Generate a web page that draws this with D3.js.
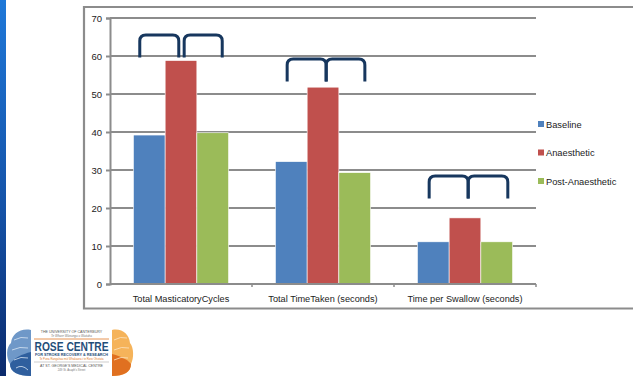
<!DOCTYPE html>
<html>
<head>
<meta charset="utf-8">
<script src="https://cdn.jsdelivr.net/npm/d3@7"></script>
<style>
  html, body { margin: 0; padding: 0; background: #fff; }
  svg { display: block; }
</style>
</head>
<body>
<svg id="chart" width="633" height="376"></svg>
<script>
// Chart data
const categories = ["Total MasticatoryCycles", "Total TimeTaken (seconds)", "Time per Swallow (seconds)"];
const seriesNames = ["Baseline", "Anaesthetic", "Post-Anaesthetic"];
const baseline = [39.2, 32.2, 11.1];
const anaesthetic = [58.8, 51.8, 17.4];
const postAnaesthetic = [39.8, 29.3, 11.1];
const yTicks = [0, 10, 20, 30, 40, 50, 60, 70];
const colors = ["#4f81bd", "#c0504d", "#9bbb59"];

const series = [baseline, anaesthetic, postAnaesthetic];

const svg = d3.select("#chart");
const font = "'Liberation Sans', Arial, sans-serif";

// Left slide stripe
const defs = svg.append("defs");
const grad = defs.append("linearGradient").attr("id", "stripe")
  .attr("x1", 0).attr("y1", 0).attr("x2", 0).attr("y2", 1);
grad.append("stop").attr("offset", "0%").attr("stop-color", "#1f78d8");
grad.append("stop").attr("offset", "55%").attr("stop-color", "#1553a8");
grad.append("stop").attr("offset", "100%").attr("stop-color", "#0b2a6c");
svg.append("rect").attr("x", 0).attr("y", 0).attr("width", 6).attr("height", 376)
  .attr("fill", "url(#stripe)");

// Chart frame
svg.append("path")
  .attr("d", "M634,7 H84 V308.5 H634")
  .attr("fill", "none").attr("stroke", "#8c8c8c").attr("stroke-width", 2.2);

// Scales
const x0 = d3.scaleBand().domain(categories).range([110, 536]).paddingInner(0.33).paddingOuter(0.165);
const x1 = d3.scaleBand().domain(d3.range(3)).range([0, x0.bandwidth()]);
const y = d3.scaleLinear().domain([0, 70]).range([284, 18]);

// Gridlines
svg.append("g").selectAll("line").data(yTicks.filter(d => d > 0)).join("line")
  .attr("x1", 110).attr("x2", 536)
  .attr("y1", d => y(d)).attr("y2", d => y(d))
  .attr("stroke", "#8c8c8c").attr("stroke-width", 2);

// Y axis
const yAxis = svg.append("g").attr("transform", "translate(110,0)")
  .call(d3.axisLeft(y).tickValues(yTicks).tickSize(4).tickPadding(4));
yAxis.select(".domain").attr("stroke", "#8c8c8c").attr("stroke-width", 2);
yAxis.selectAll(".tick line").attr("stroke", "#8c8c8c").attr("stroke-width", 2);
yAxis.selectAll(".tick text").attr("font-family", font).attr("font-size", 9.5).attr("fill", "#222");

// Bars
const groups = svg.append("g").selectAll("g").data(categories).join("g")
  .attr("transform", d => `translate(${x0(d)},0)`);
groups.selectAll("rect").data((d, i) => series.map((s, k) => ({ k, v: s[i] }))).join("rect")
  .attr("x", d => x1(d.k))
  .attr("y", d => y(d.v))
  .attr("width", x1.bandwidth())
  .attr("height", d => y(0) - y(d.v))
  .attr("fill", d => colors[d.k])
  .attr("stroke", "#fff").attr("stroke-width", 0.6);

// X axis
const xAxisG = svg.append("g").attr("transform", "translate(0,284)");
xAxisG.append("line").attr("x1", 110).attr("x2", 536).attr("stroke", "#8c8c8c").attr("stroke-width", 2);
xAxisG.selectAll(".xt").data(categories.map(c => x0(c) - x0.step() * x0.paddingInner() / 2)
    .slice(1).concat([536])).join("line")
  .attr("x1", d => d).attr("x2", d => d).attr("y1", 0).attr("y2", 3)
  .attr("stroke", "#8c8c8c").attr("stroke-width", 1.5);
xAxisG.selectAll("text").data(categories).join("text")
  .attr("x", d => x0(d) + x0.bandwidth() / 2).attr("y", 18)
  .attr("text-anchor", "middle")
  .attr("font-family", font).attr("font-size", 9.2).attr("fill", "#222")
  .text(d => d);

// Significance brackets over each group (Baseline–Anaesthetic, Anaesthetic–Post)
// Each bracket spans from one bar to the next; ends given as [series, fraction of bar width].
const bracketLevel = [65.5, 59.2, 28.4];
const bracketEnds = [
  [[[0, 0.2], [1, 0.43]], [[1, 0.6], [2, 0.8]]],
  [[[0, 0.37], [1, 0.6]], [[1, 0.6], [2, 0.82]]],
  [[[0, 0.37], [1, 0.6]], [[1, 0.6], [2, 0.85]]]
];
const r = 6;
categories.forEach((c, i) => {
  const top = y(bracketLevel[i]);
  const bottom = top + 22.5;
  bracketEnds[i].forEach(([a, b]) => {
    const xa = x0(c) + x1(a[0]) + x1.bandwidth() * a[1];
    const xb = x0(c) + x1(b[0]) + x1.bandwidth() * b[1];
    svg.append("path")
      .attr("d", `M${xa},${bottom} L${xa},${top + r} Q${xa},${top} ${xa + r},${top} L${xb - r},${top} Q${xb},${top} ${xb},${top + r} L${xb},${bottom}`)
      .attr("fill", "none").attr("stroke", "#17375e").attr("stroke-width", 3);
  });
});

// Legend
const legend = svg.append("g").selectAll("g").data(seriesNames).join("g")
  .attr("transform", (d, i) => `translate(538,${121 + i * 28.5})`);
legend.append("rect").attr("width", 6).attr("height", 6).attr("fill", (d, i) => colors[i]);
legend.append("text").attr("x", 8).attr("y", 6.5)
  .attr("font-family", font).attr("font-size", 9.3).attr("fill", "#222")
  .text(d => d);

// Rose Centre logo
const logo = svg.append("g").attr("transform", "translate(0,326)");
const brainL = logo.append("g");
brainL.append("path").attr("d", "M31,4 C20,2 12,8 11,17 C6,21 6,32 10,38 C10,46 18,50 31,50 Z")
  .attr("fill", "#6f98c8");
brainL.append("path").attr("d", "M31,26 C22,28 14,32 10,38 C10,46 18,50 31,50 Z")
  .attr("fill", "#2f5f9e");
brainL.selectAll("path.c").data([[14, 14, 28, 12], [12, 24, 28, 22], [14, 34, 28, 32], [16, 42, 28, 44]]).join("path")
  .attr("d", d => `M${d[0]},${d[1]} Q${(d[0] + d[2]) / 2},${d[1] - 4} ${d[2]},${d[3]}`)
  .attr("fill", "none").attr("stroke", "#d8e4f2").attr("stroke-width", 0.8);
const brainR = logo.append("g");
brainR.append("path").attr("d", "M112,4 C122,2 129,8 130,17 C134,22 134,32 131,38 C131,46 124,50 112,50 Z")
  .attr("fill", "#f5b35a");
brainR.append("path").attr("d", "M112,28 C120,30 127,33 131,38 C131,46 124,50 112,50 Z")
  .attr("fill", "#e07020");
brainR.selectAll("path.c").data([[114, 14, 127, 12], [114, 24, 129, 22], [114, 34, 128, 32]]).join("path")
  .attr("d", d => `M${d[0]},${d[1]} Q${(d[0] + d[2]) / 2},${d[1] - 4} ${d[2]},${d[3]}`)
  .attr("fill", "none").attr("stroke", "#fbe3c2").attr("stroke-width", 0.8);
logo.append("rect").attr("x", 32).attr("y", 2).attr("width", 79).attr("height", 48).attr("fill", "#fff");
logo.append("text").attr("x", 71.5).attr("y", 7).attr("text-anchor", "middle")
  .attr("font-family", font).attr("font-size", 3.6).attr("fill", "#555")
  .text("THE UNIVERSITY OF CANTERBURY");
logo.append("text").attr("x", 71.5).attr("y", 11).attr("text-anchor", "middle")
  .attr("font-family", font).attr("font-size", 3).attr("font-style", "italic").attr("fill", "#777")
  .text("Te Whare Wānanga o Waitaha");
logo.append("line").attr("x1", 34).attr("x2", 109).attr("y1", 13).attr("y2", 13).attr("stroke", "#e07a2a").attr("stroke-width", 0.8);
logo.append("text").attr("x", 71.5).attr("y", 25).attr("text-anchor", "middle")
  .attr("font-family", "'Liberation Sans Narrow', 'Liberation Sans', sans-serif").attr("font-weight", "bold")
  .attr("font-size", 13).attr("fill", "#1f4e79").attr("textLength", 74).attr("lengthAdjust", "spacingAndGlyphs")
  .text("ROSE CENTRE");
logo.append("text").attr("x", 71.5).attr("y", 29.5).attr("text-anchor", "middle")
  .attr("font-family", font).attr("font-weight", "bold").attr("font-size", 3.8).attr("fill", "#1f4e79")
  .text("FOR STROKE RECOVERY & RESEARCH");
logo.append("text").attr("x", 71.5).attr("y", 33.5).attr("text-anchor", "middle")
  .attr("font-family", font).attr("font-size", 2.8).attr("fill", "#e07a2a")
  .text("Te Puna Rangahau mō Whakaora i te Roro Ohotata");
logo.append("line").attr("x1", 34).attr("x2", 109).attr("y1", 36).attr("y2", 36).attr("stroke", "#999").attr("stroke-width", 0.5);
logo.append("text").attr("x", 71.5).attr("y", 41).attr("text-anchor", "middle")
  .attr("font-family", font).attr("font-size", 3.6).attr("fill", "#555")
  .text("AT ST. GEORGE'S MEDICAL CENTRE");
logo.append("text").attr("x", 71.5).attr("y", 45).attr("text-anchor", "middle")
  .attr("font-family", font).attr("font-size", 2.8).attr("fill", "#777")
  .text("249 St. Asaph's Street");
</script>
</body>
</html>
